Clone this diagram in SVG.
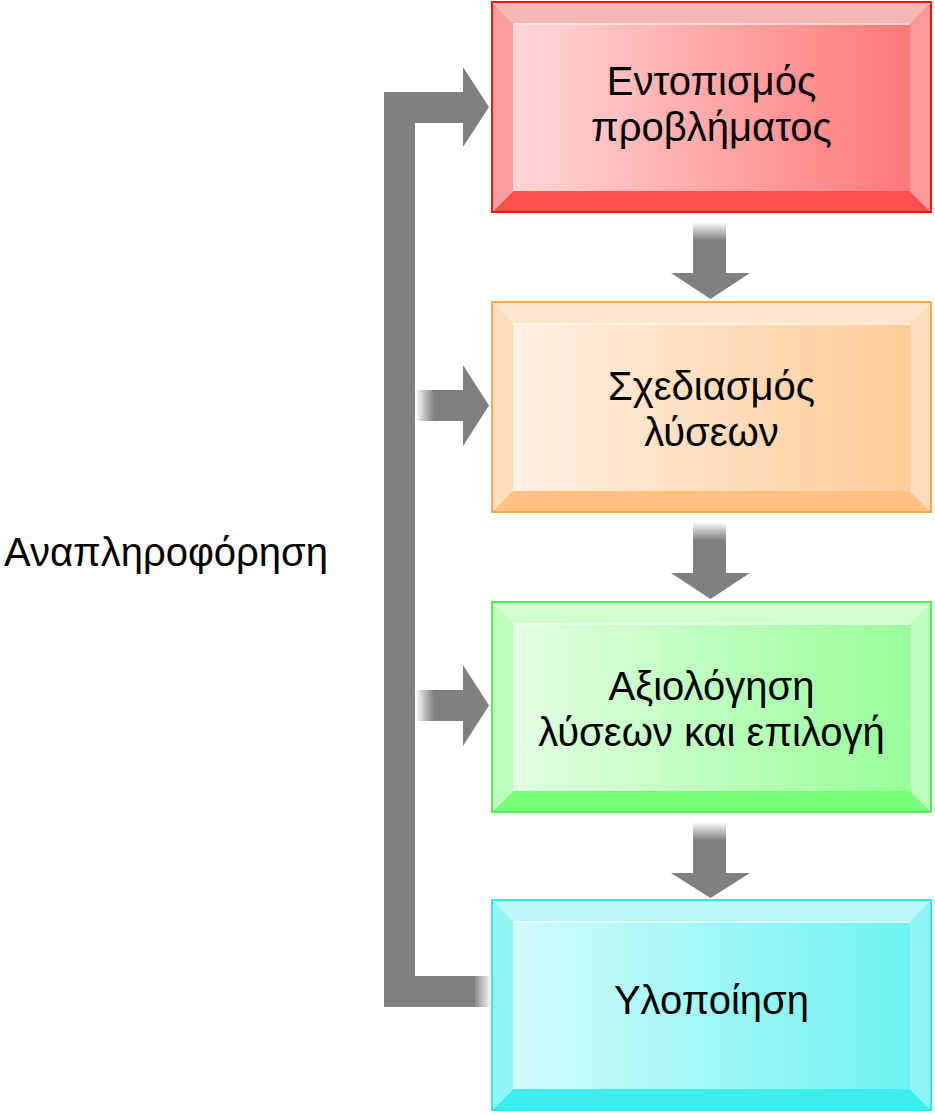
<svg xmlns="http://www.w3.org/2000/svg" width="935" height="1115" viewBox="0 0 935 1115">
<style>
text{font-family:"Liberation Sans",Arial,sans-serif;font-size:40px;fill:#000;text-anchor:middle}
.lbl{text-anchor:start}
.border{fill:none;stroke-width:2}
.gray{fill:#808080}
</style>
<defs>
<linearGradient id="gR" x1="0" y1="0" x2="1" y2="0"><stop offset="0" stop-color="#FFD8D8"/><stop offset="1" stop-color="#FF7878"/></linearGradient>
<linearGradient id="gO" x1="0" y1="0" x2="1" y2="0"><stop offset="0" stop-color="#FFF0E2"/><stop offset="1" stop-color="#FFCC98"/></linearGradient>
<linearGradient id="gG" x1="0" y1="0" x2="1" y2="0"><stop offset="0" stop-color="#E2FFE2"/><stop offset="1" stop-color="#98FF98"/></linearGradient>
<linearGradient id="gC" x1="0" y1="0" x2="1" y2="0"><stop offset="0" stop-color="#D2FBFB"/><stop offset="1" stop-color="#6EF2F2"/></linearGradient>
<linearGradient id="fadeDown" x1="0" y1="0" x2="0" y2="1"><stop offset="0" stop-color="#808080" stop-opacity="0"/><stop offset="0.35" stop-color="#808080"/><stop offset="1" stop-color="#808080"/></linearGradient>
<linearGradient id="fadeRight" x1="0" y1="0" x2="1" y2="0"><stop offset="0" stop-color="#808080" stop-opacity="0"/><stop offset="0.4" stop-color="#808080"/><stop offset="1" stop-color="#808080"/></linearGradient>
<linearGradient id="fadeEnd" x1="384" y1="0" x2="490" y2="0" gradientUnits="userSpaceOnUse"><stop offset="0" stop-color="#808080"/><stop offset="0.84" stop-color="#808080"/><stop offset="1" stop-color="#808080" stop-opacity="0.1"/></linearGradient>
</defs>

<g id="connectors">
<polygon points="384,92 463,92 463,67 489,107 463,147 463,123 415,123 415,976 475,976 475,1007 384,1007" class="gray"/>
<rect x="415" y="976" width="75" height="31" fill="url(#fadeEnd)"/>
<rect x="415" y="390" width="48" height="31" fill="url(#fadeRight)"/>
<polygon points="463,365 489,405.5 463,446" class="gray"/>
<rect x="415" y="690" width="48" height="31" fill="url(#fadeRight)"/>
<polygon points="463,665 489,705.5 463,746" class="gray"/>
<rect x="693" y="222" width="33" height="52" fill="url(#fadeDown)"/>
<polygon points="671,273 750,273 710.5,299" class="gray"/>
<rect x="693" y="522" width="33" height="52" fill="url(#fadeDown)"/>
<polygon points="671,573 750,573 710.5,599" class="gray"/>
<rect x="693" y="822" width="33" height="52" fill="url(#fadeDown)"/>
<polygon points="671,873 750,873 710.5,898" class="gray"/>
</g>

<g id="node1" transform="translate(492,2)">
<polygon points="0,0 439,0 418,21 21,21" fill="#F4B6B6"/>
<polygon points="0,210 439,210 418,189 21,189" fill="#FF5050"/>
<polygon points="0,0 21,21 21,189 0,210" fill="#FF9E9E"/>
<polygon points="439,0 418,21 418,189 439,210" fill="#FF9898"/>
<rect x="21" y="21" width="397" height="168" fill="url(#gR)"/>
<line x1="21" y1="22" x2="418" y2="22" stroke="#FFE8E8" stroke-width="1.5"/>
<rect x="0" y="0" width="439" height="210" class="border" stroke="#FF1010"/>
<text x="219.5" y="93">Εντοπισμός</text>
<text x="219.5" y="139">προβλήματος</text>
</g>

<g id="node2" transform="translate(492,302)">
<polygon points="0,0 439,0 418,21 21,21" fill="#FFE6CE"/>
<polygon points="0,210 439,210 418,189 21,189" fill="#FFC080"/>
<polygon points="0,0 21,21 21,189 0,210" fill="#FFDDBC"/>
<polygon points="439,0 418,21 418,189 439,210" fill="#FFDDBC"/>
<rect x="21" y="21" width="397" height="168" fill="url(#gO)"/>
<line x1="21" y1="22" x2="418" y2="22" stroke="#FFF6EE" stroke-width="1.5"/>
<rect x="0" y="0" width="439" height="210" class="border" stroke="#FFA850"/>
<text x="219.5" y="98">Σχεδιασμός</text>
<text x="219.5" y="144">λύσεων</text>
</g>

<g id="node3" transform="translate(492,602)">
<polygon points="0,0 439,0 418,21 21,21" fill="#D2FFD2"/>
<polygon points="0,210 439,210 418,189 21,189" fill="#78FF78"/>
<polygon points="0,0 21,21 21,189 0,210" fill="#BCFFBC"/>
<polygon points="439,0 418,21 418,189 439,210" fill="#BCFFBC"/>
<rect x="21" y="21" width="397" height="168" fill="url(#gG)"/>
<line x1="21" y1="22" x2="418" y2="22" stroke="#F0FFF0" stroke-width="1.5"/>
<rect x="0" y="0" width="439" height="210" class="border" stroke="#55EE55"/>
<text x="219.5" y="98">Αξιολόγηση</text>
<text x="219.5" y="144">λύσεων και επιλογή</text>
</g>

<g id="node4" transform="translate(492,900)">
<polygon points="0,0 439,0 418,21 21,21" fill="#BAF8F8"/>
<polygon points="0,210 439,210 418,189 21,189" fill="#3EEEEE"/>
<polygon points="0,0 21,21 21,189 0,210" fill="#8EF4F4"/>
<polygon points="439,0 418,21 418,189 439,210" fill="#8EF4F4"/>
<rect x="21" y="21" width="397" height="168" fill="url(#gC)"/>
<line x1="21" y1="22" x2="418" y2="22" stroke="#EEFFFF" stroke-width="1.5"/>
<rect x="0" y="0" width="439" height="210" class="border" stroke="#33E6E6"/>
<text x="219.5" y="114">Υλοποίηση</text>
</g>

<g id="label">
<text class="lbl" x="4" y="566">Αναπληροφόρηση</text>
</g>
</svg>
